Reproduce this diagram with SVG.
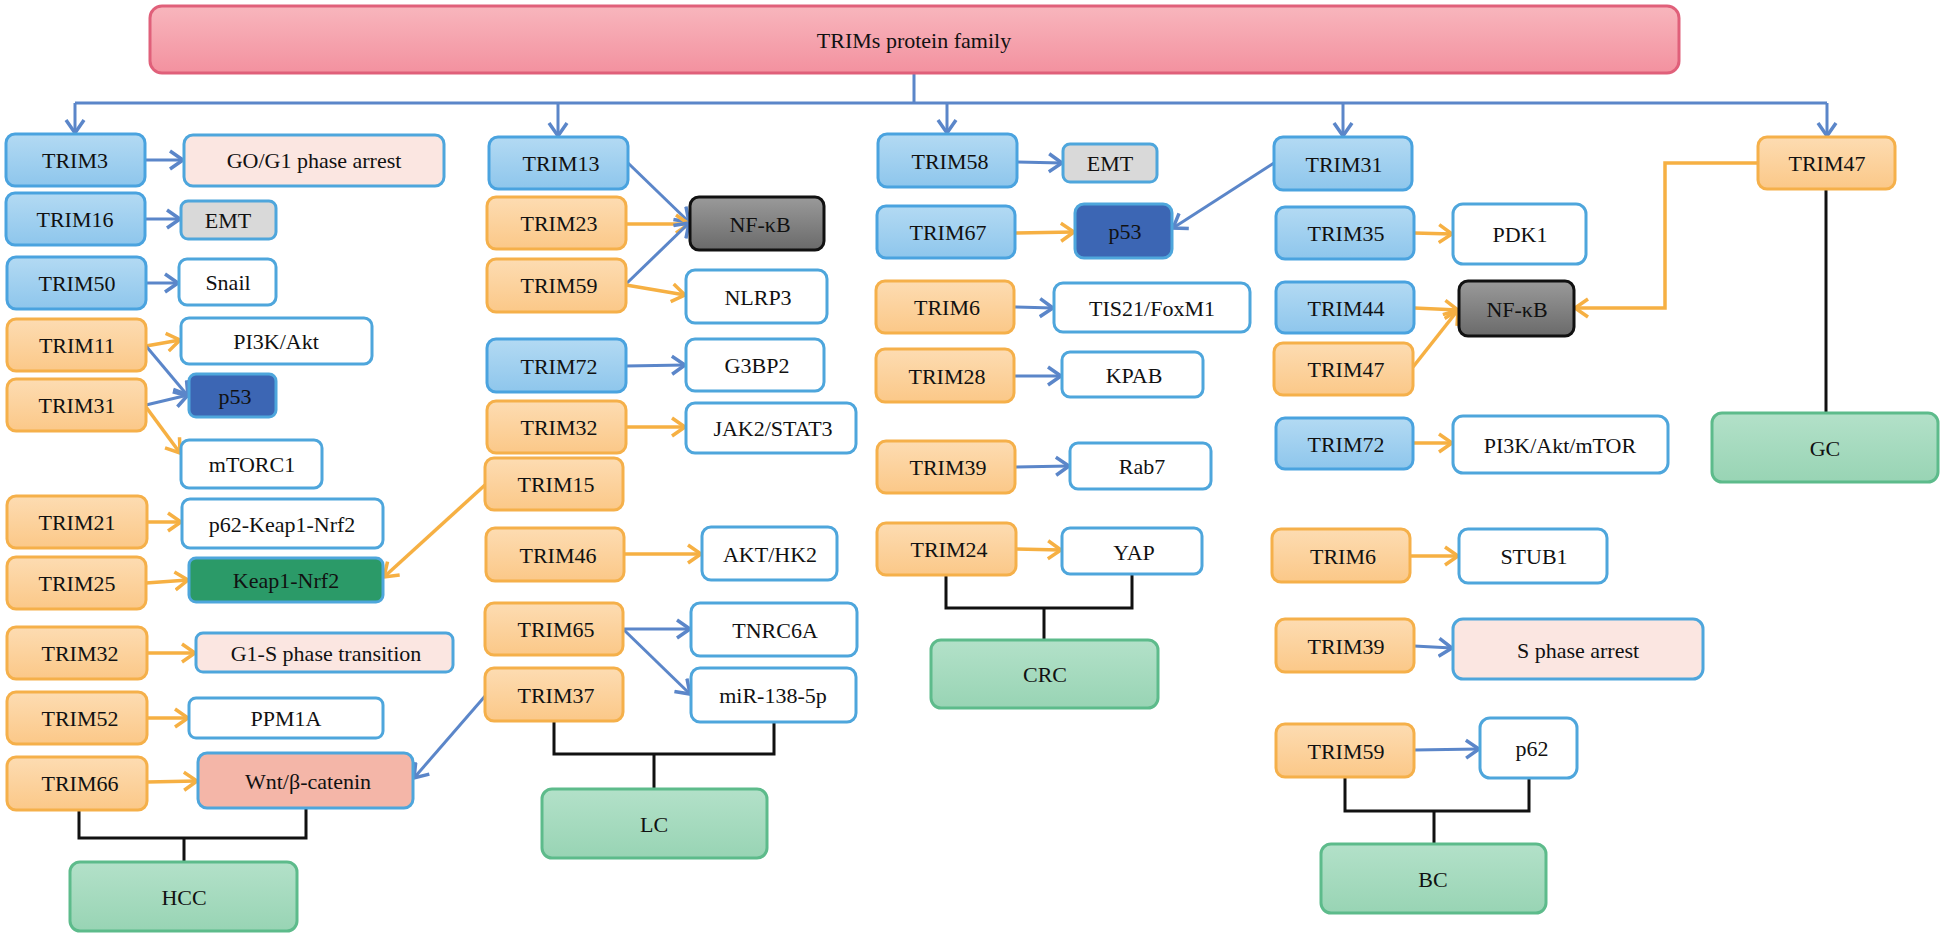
<svg xmlns="http://www.w3.org/2000/svg" width="1945" height="937" viewBox="0 0 1945 937" font-family="Liberation Serif, DejaVu Serif, serif">
<defs>
<linearGradient id="gBlue" x1="0" y1="0" x2="0" y2="1"><stop offset="0" stop-color="#b3daf3"/><stop offset="1" stop-color="#8ec6ec"/></linearGradient>
<linearGradient id="gOrange" x1="0" y1="0" x2="0" y2="1"><stop offset="0" stop-color="#fddcb2"/><stop offset="1" stop-color="#fbc888"/></linearGradient>
<linearGradient id="gGreen" x1="0" y1="0" x2="0" y2="1"><stop offset="0" stop-color="#b3e1c9"/><stop offset="1" stop-color="#98d4b4"/></linearGradient>
<linearGradient id="gGray" x1="0" y1="0" x2="0" y2="1"><stop offset="0" stop-color="#9a9a9a"/><stop offset="1" stop-color="#6a6a6a"/></linearGradient>
<linearGradient id="gTop" x1="0" y1="0" x2="0" y2="1"><stop offset="0" stop-color="#f8b6bd"/><stop offset="1" stop-color="#f3919f"/></linearGradient>
<marker id="aB" markerUnits="userSpaceOnUse" markerWidth="18" markerHeight="22" refX="14" refY="11" orient="auto"><path d="M1,2 L14,11 L1,20" fill="none" stroke="#5b86c9" stroke-width="3.5"/></marker>
<marker id="aO" markerUnits="userSpaceOnUse" markerWidth="18" markerHeight="22" refX="14" refY="11" orient="auto"><path d="M1,2 L14,11 L1,20" fill="none" stroke="#f6b043" stroke-width="3.5"/></marker>
</defs>
<style>
text{font-family:'Liberation Serif','Times New Roman','DejaVu Serif',serif;font-size:22px;fill:#111;text-anchor:middle;dominant-baseline:central}
.tb rect{fill:url(#gBlue);stroke:#4aa3df;stroke-width:3}
.to rect{fill:url(#gOrange);stroke:#f5b04a;stroke-width:3}
.w rect{fill:#fff;stroke:#4ea6dc;stroke-width:3}
.pk rect{fill:#fbe6e1;stroke:#4ea6dc;stroke-width:3}
.gy rect{fill:#d9d9d9;stroke:#4ea6dc;stroke-width:3}
.dk rect{fill:#3c66b4;stroke:#4ea6dc;stroke-width:3}
.kn rect{fill:#2b9a68;stroke:#4ea6dc;stroke-width:3}
.nf rect{fill:url(#gGray);stroke:#111;stroke-width:3}
.wn rect{fill:#f4b6a8;stroke:#4ea6dc;stroke-width:3}
.cn rect{fill:url(#gGreen);stroke:#5dbb8b;stroke-width:3}
.top rect{fill:url(#gTop);stroke:#e0607a;stroke-width:3}
.lb{fill:none;stroke:#5b86c9;stroke-width:3}
.lo{fill:none;stroke:#f6b043;stroke-width:3.5}
.lk{fill:none;stroke:#111;stroke-width:3}
.eb{marker-end:url(#aB)}
.eo{marker-end:url(#aO)}
</style>

<g id="connectors">
<path class="lb" d="M914,73 V103 M75,103 H1827"/>
<path class="lb eb" d="M75,103 V133"/>
<path class="lb eb" d="M558,103 V136"/>
<path class="lb eb" d="M947,103 V133"/>
<path class="lb eb" d="M1343,103 V136"/>
<path class="lb eb" d="M1827,103 V136"/>
<path class="lb eb" d="M145,160 H183"/>
<path class="lb eb" d="M145,219 H180"/>
<path class="lb eb" d="M146,283 H178"/>
<path class="lo eo" d="M146,346 L180,340"/>
<path class="lb eb" d="M146,346 L188,396"/>
<path class="lb eb" d="M146,405 L188,395"/>
<path class="lo eo" d="M146,407 L180,453"/>
<path class="lo eo" d="M147,522 H181"/>
<path class="lo eo" d="M146,583 L188,580"/>
<path class="lo eo" d="M485,485 L384,577"/>
<path class="lo eo" d="M147,653 H195"/>
<path class="lo eo" d="M147,718 H188"/>
<path class="lo eo" d="M147,782 L197,781"/>
<path class="lb eb" d="M486,695 L414,778"/>
<path class="lk" d="M79,810 V838 H306 V808 M184,838 V862"/>
<path class="lb eb" d="M628,163 L689,222"/>
<path class="lo eo" d="M626,224 H689"/>
<path class="lb eb" d="M626,284 L689,223"/>
<path class="lo eo" d="M626,285 L685,295"/>
<path class="lb eb" d="M626,366 L685,365"/>
<path class="lo eo" d="M626,427 H685"/>
<path class="lo eo" d="M624,554 H701"/>
<path class="lb eb" d="M623,629 H690"/>
<path class="lb eb" d="M623,629 L690,694"/>
<path class="lk" d="M554,721 V754 H774 V722 M654,754 V789"/>
<path class="lb eb" d="M1017,162 L1062,163"/>
<path class="lo eo" d="M1015,233 L1074,232"/>
<path class="lb eb" d="M1274,163 L1173,228"/>
<path class="lb eb" d="M1014,307 L1053,308"/>
<path class="lb eb" d="M1014,376 H1061"/>
<path class="lb eb" d="M1015,467 L1069,466"/>
<path class="lo eo" d="M1016,549 L1061,550"/>
<path class="lk" d="M946,575 V608 H1132 V574 M1044,608 V640"/>
<path class="lo eo" d="M1414,233 L1452,234"/>
<path class="lo eo" d="M1414,308 L1458,310"/>
<path class="lo eo" d="M1413,367 L1458,310"/>
<path class="lo eo" d="M1758,163 H1665 V308 H1575"/>
<path class="lo eo" d="M1414,443 H1452"/>
<path class="lo eo" d="M1410,556 H1458"/>
<path class="lb eb" d="M1414,646 L1452,648"/>
<path class="lb eb" d="M1414,750 L1479,749"/>
<path class="lk" d="M1345,777 V811 H1529 V778 M1434,811 V844"/>
<path class="lk" d="M1826,189 V413"/>
</g>

<g id="n-top" class="top"><rect x="150" y="6" width="1529" height="67" rx="12"/><text x="914" y="40">TRIMs protein family</text></g>

<g id="n-trim3" class="tb"><rect x="6" y="134" width="139" height="52" rx="9"/><text x="75" y="160">TRIM3</text></g>
<g id="n-g0g1" class="pk"><rect x="184" y="135" width="260" height="51" rx="9"/><text x="314" y="160">GO/G1 phase arrest</text></g>
<g id="n-trim16" class="tb"><rect x="6" y="193" width="139" height="52" rx="9"/><text x="75" y="219">TRIM16</text></g>
<g id="n-emt1" class="gy"><rect x="181" y="201" width="95" height="38" rx="7"/><text x="228" y="220">EMT</text></g>
<g id="n-trim50" class="tb"><rect x="7" y="257" width="139" height="52" rx="9"/><text x="77" y="283">TRIM50</text></g>
<g id="n-snail" class="w"><rect x="179" y="259" width="97" height="46" rx="8"/><text x="228" y="282">Snail</text></g>
<g id="n-trim11" class="to"><rect x="7" y="319" width="139" height="52" rx="9"/><text x="77" y="345">TRIM11</text></g>
<g id="n-pi3k" class="w"><rect x="181" y="318" width="191" height="46" rx="8"/><text x="276" y="341">PI3K/Akt</text></g>
<g id="n-p53a" class="dk"><rect x="189" y="374" width="87" height="43" rx="7"/><text x="235" y="396">p53</text></g>
<g id="n-trim31a" class="to"><rect x="7" y="379" width="139" height="52" rx="9"/><text x="77" y="405">TRIM31</text></g>
<g id="n-mtorc1" class="w"><rect x="181" y="440" width="141" height="48" rx="8"/><text x="252" y="464">mTORC1</text></g>
<g id="n-trim21" class="to"><rect x="7" y="496" width="140" height="52" rx="9"/><text x="77" y="522">TRIM21</text></g>
<g id="n-p62keap" class="w"><rect x="182" y="499" width="201" height="49" rx="8"/><text x="282" y="524">p62-Keap1-Nrf2</text></g>
<g id="n-trim25" class="to"><rect x="7" y="557" width="139" height="52" rx="9"/><text x="77" y="583">TRIM25</text></g>
<g id="n-keap" class="kn"><rect x="189" y="558" width="194" height="44" rx="7"/><text x="286" y="580">Keap1-Nrf2</text></g>
<g id="n-trim32a" class="to"><rect x="7" y="627" width="140" height="52" rx="9"/><text x="80" y="653">TRIM32</text></g>
<g id="n-g1s" class="pk"><rect x="196" y="633" width="257" height="39" rx="7"/><text x="326" y="653">G1-S phase transition</text></g>
<g id="n-trim52" class="to"><rect x="7" y="692" width="140" height="52" rx="9"/><text x="80" y="718">TRIM52</text></g>
<g id="n-ppm1a" class="w"><rect x="189" y="698" width="194" height="40" rx="7"/><text x="286" y="718">PPM1A</text></g>
<g id="n-trim66" class="to"><rect x="7" y="757" width="140" height="53" rx="9"/><text x="80" y="783">TRIM66</text></g>
<g id="n-wnt" class="wn"><rect x="198" y="753" width="215" height="55" rx="9"/><text x="308" y="781">Wnt/β-catenin</text></g>
<g id="n-hcc" class="cn"><rect x="70" y="862" width="227" height="69" rx="10"/><text x="184" y="897">HCC</text></g>

<g id="n-trim13" class="tb"><rect x="489" y="137" width="139" height="52" rx="9"/><text x="561" y="163">TRIM13</text></g>
<g id="n-trim23" class="to"><rect x="487" y="197" width="139" height="52" rx="9"/><text x="559" y="223">TRIM23</text></g>
<g id="n-nfkba" class="nf"><rect x="690" y="197" width="134" height="53" rx="9"/><text x="760" y="224">NF-κB</text></g>
<g id="n-trim59a" class="to"><rect x="487" y="259" width="139" height="53" rx="9"/><text x="559" y="285">TRIM59</text></g>
<g id="n-nlrp3" class="w"><rect x="686" y="270" width="141" height="53" rx="9"/><text x="758" y="297">NLRP3</text></g>
<g id="n-trim72a" class="tb"><rect x="487" y="339" width="139" height="53" rx="9"/><text x="559" y="366">TRIM72</text></g>
<g id="n-g3bp2" class="w"><rect x="686" y="339" width="138" height="52" rx="9"/><text x="757" y="365">G3BP2</text></g>
<g id="n-trim32b" class="to"><rect x="487" y="401" width="139" height="52" rx="9"/><text x="559" y="427">TRIM32</text></g>
<g id="n-jak2" class="w"><rect x="686" y="403" width="170" height="50" rx="9"/><text x="773" y="428">JAK2/STAT3</text></g>
<g id="n-trim15" class="to"><rect x="485" y="458" width="138" height="52" rx="9"/><text x="556" y="484">TRIM15</text></g>
<g id="n-trim46" class="to"><rect x="486" y="528" width="138" height="53" rx="9"/><text x="558" y="555">TRIM46</text></g>
<g id="n-akthk2" class="w"><rect x="702" y="527" width="135" height="53" rx="9"/><text x="770" y="554">AKT/HK2</text></g>
<g id="n-trim65" class="to"><rect x="485" y="603" width="138" height="52" rx="9"/><text x="556" y="629">TRIM65</text></g>
<g id="n-tnrc6a" class="w"><rect x="691" y="603" width="166" height="53" rx="9"/><text x="775" y="630">TNRC6A</text></g>
<g id="n-trim37" class="to"><rect x="485" y="668" width="138" height="53" rx="9"/><text x="556" y="695">TRIM37</text></g>
<g id="n-mir138" class="w"><rect x="691" y="668" width="165" height="54" rx="9"/><text x="773" y="695">miR-138-5p</text></g>
<g id="n-lc" class="cn"><rect x="542" y="789" width="225" height="69" rx="10"/><text x="654" y="824">LC</text></g>

<g id="n-trim58" class="tb"><rect x="878" y="134" width="139" height="53" rx="9"/><text x="950" y="161">TRIM58</text></g>
<g id="n-emt2" class="gy"><rect x="1063" y="144" width="94" height="38" rx="7"/><text x="1110" y="163">EMT</text></g>
<g id="n-trim67" class="tb"><rect x="877" y="206" width="138" height="52" rx="9"/><text x="948" y="232">TRIM67</text></g>
<g id="n-p53b" class="dk"><rect x="1075" y="204" width="97" height="54" rx="9"/><text x="1125" y="231">p53</text></g>
<g id="n-trim6a" class="to"><rect x="876" y="281" width="138" height="52" rx="9"/><text x="947" y="307">TRIM6</text></g>
<g id="n-tis21" class="w"><rect x="1054" y="283" width="196" height="49" rx="9"/><text x="1152" y="308">TIS21/FoxM1</text></g>
<g id="n-trim28" class="to"><rect x="876" y="349" width="138" height="53" rx="9"/><text x="947" y="376">TRIM28</text></g>
<g id="n-kpab" class="w"><rect x="1062" y="352" width="141" height="45" rx="8"/><text x="1134" y="375">KPAB</text></g>
<g id="n-trim39a" class="to"><rect x="877" y="441" width="138" height="52" rx="9"/><text x="948" y="467">TRIM39</text></g>
<g id="n-rab7" class="w"><rect x="1070" y="443" width="141" height="46" rx="8"/><text x="1142" y="466">Rab7</text></g>
<g id="n-trim24" class="to"><rect x="877" y="523" width="139" height="52" rx="9"/><text x="949" y="549">TRIM24</text></g>
<g id="n-yap" class="w"><rect x="1062" y="528" width="140" height="46" rx="8"/><text x="1134" y="552">YAP</text></g>
<g id="n-crc" class="cn"><rect x="931" y="640" width="227" height="68" rx="10"/><text x="1045" y="674">CRC</text></g>

<g id="n-trim31b" class="tb"><rect x="1274" y="137" width="138" height="53" rx="9"/><text x="1344" y="164">TRIM31</text></g>
<g id="n-trim35" class="tb"><rect x="1276" y="207" width="138" height="52" rx="9"/><text x="1346" y="233">TRIM35</text></g>
<g id="n-pdk1" class="w"><rect x="1453" y="204" width="133" height="60" rx="10"/><text x="1520" y="234">PDK1</text></g>
<g id="n-trim44" class="tb"><rect x="1276" y="282" width="138" height="51" rx="9"/><text x="1346" y="308">TRIM44</text></g>
<g id="n-nfkbb" class="nf"><rect x="1459" y="281" width="115" height="55" rx="9"/><text x="1517" y="309">NF-κB</text></g>
<g id="n-trim47a" class="to"><rect x="1274" y="343" width="139" height="52" rx="9"/><text x="1346" y="369">TRIM47</text></g>
<g id="n-trim72b" class="tb"><rect x="1276" y="418" width="137" height="51" rx="9"/><text x="1346" y="444">TRIM72</text></g>
<g id="n-pi3kmtor" class="w"><rect x="1453" y="416" width="215" height="57" rx="10"/><text x="1560" y="445">PI3K/Akt/mTOR</text></g>
<g id="n-trim6b" class="to"><rect x="1272" y="529" width="138" height="53" rx="9"/><text x="1343" y="556">TRIM6</text></g>
<g id="n-stub1" class="w"><rect x="1459" y="529" width="148" height="54" rx="9"/><text x="1534" y="556">STUB1</text></g>
<g id="n-trim39b" class="to"><rect x="1276" y="619" width="138" height="53" rx="9"/><text x="1346" y="646">TRIM39</text></g>
<g id="n-sphase" class="pk"><rect x="1453" y="619" width="250" height="60" rx="10"/><text x="1578" y="650">S phase arrest</text></g>
<g id="n-trim59b" class="to"><rect x="1276" y="724" width="138" height="53" rx="9"/><text x="1346" y="751">TRIM59</text></g>
<g id="n-p62" class="w"><rect x="1480" y="718" width="97" height="60" rx="10"/><text x="1532" y="748">p62</text></g>
<g id="n-bc" class="cn"><rect x="1321" y="844" width="225" height="69" rx="10"/><text x="1433" y="879">BC</text></g>
<g id="n-trim47b" class="to"><rect x="1758" y="137" width="137" height="52" rx="9"/><text x="1827" y="163">TRIM47</text></g>
<g id="n-gc" class="cn"><rect x="1712" y="413" width="226" height="69" rx="10"/><text x="1825" y="448">GC</text></g>
</svg>
